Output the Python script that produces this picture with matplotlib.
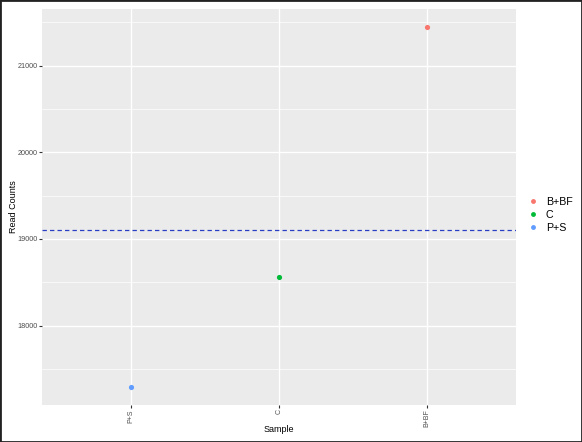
import matplotlib
matplotlib.use("Agg")
import matplotlib.pyplot as plt
from matplotlib.lines import Line2D
from matplotlib.patches import Rectangle
import numpy as np

plt.rcParams["font.family"] = ["Liberation Sans", "DejaVu Sans"]

samples = ["P+S", "C", "B+BF"]
read_counts = [17291, 18559, 21444]
colors = {"B+BF": "#F8766D", "C": "#00BA38", "P+S": "#619CFF"}
legend_order = ["B+BF", "C", "P+S"]
y_ticks = [18000, 19000, 20000, 21000]
y_minor = [17500, 18500, 19500, 20500, 21500]

mean_count = np.mean(read_counts)

fig = plt.figure(figsize=(5.82, 4.42), dpi=100)
ax = fig.add_axes([0.0722, 0.0837, 0.8144, 0.8959])
ax.set_facecolor("#EBEBEB")

x = np.arange(len(samples))
for xi, name, val in zip(x, samples, read_counts):
    ax.scatter(xi, val, s=14, color=colors[name], zorder=3, linewidths=0)

ax.axhline(mean_count, color="#2A3FC4", linestyle=(0, (3.5, 2.5)), linewidth=0.9, zorder=2)

lo, hi = min(read_counts), max(read_counts)
pad = 0.05 * (hi - lo)
ax.set_ylim(lo - pad, hi + pad)
ax.set_xlim(-0.6, len(samples) - 1 + 0.6)

ax.set_xticks(x)
ax.set_xticklabels(samples, rotation=90, fontsize=5.0, color="#4D4D4D")
ax.set_yticks(y_ticks)
ax.set_yticklabels([str(v) for v in y_ticks], fontsize=5.2, color="#4D4D4D")
ax.set_yticks(y_minor, minor=True)
ax.tick_params(axis="y", which="minor", length=0)
ax.tick_params(axis="both", which="major", length=2.0, width=0.8, color="#333333", pad=1.0)

ax.grid(which="major", color="white", linewidth=1.0, zorder=0)
ax.grid(which="minor", axis="y", color="white", linewidth=0.5, zorder=0)
ax.set_axisbelow(True)
for sp in ax.spines.values():
    sp.set_visible(False)

fig.text(279 / 582, 1 - 429 / 442, "Sample", fontsize=6.5, ha="center", va="center")
fig.text(14 / 582, 1 - 207 / 442, "Read Counts", fontsize=6.5, ha="center", va="center",
         rotation=90)

handles = [Line2D([0], [0], marker="o", linestyle="", markersize=3.5,
                  markerfacecolor=colors[k], markeredgewidth=0) for k in legend_order]
leg = fig.legend(handles, legend_order, loc="center left", bbox_to_anchor=(0.89, 0.514),
                 frameon=False, fontsize=7.7, handletextpad=0.7, labelspacing=0.3,
                 handlelength=1.0)

fig.patches.append(Rectangle((0, 0), 1, 1, transform=fig.transFigure, fill=False,
                             edgecolor="#222222", linewidth=2.0))

fig.savefig("out.png", dpi=100)
